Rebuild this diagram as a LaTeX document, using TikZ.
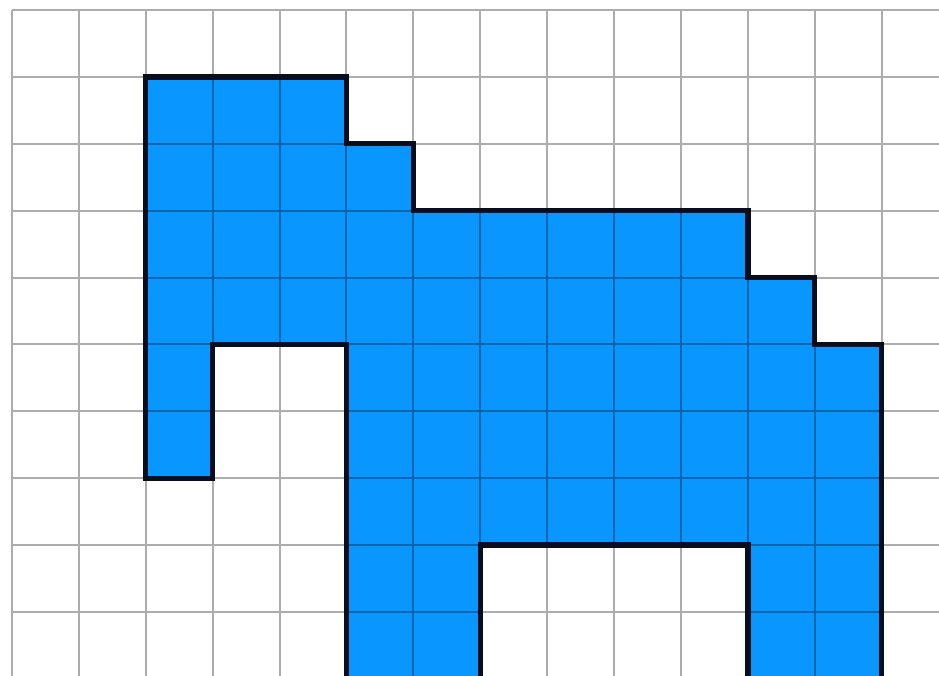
\documentclass[tikz,border=0pt]{standalone}
\usepackage{xcolor}
\definecolor{shapeblue}{RGB}{10,150,255}
\definecolor{edgeblack}{RGB}{8,14,30}
\tikzset{
  gridline/.style={black, opacity=0.32, line width=0.85pt},
  outline/.style={edgeblack, line width=2.3pt, line join=miter}
}

\begin{document}
\begin{tikzpicture}
  \useasboundingbox (-0.179,0.149) rectangle (13.857,-9.955);
  \clip (-0.179,0.149) rectangle (13.857,-9.955);
  \fill[shapeblue] (2,-1) -- (5,-1) -- (5,-2) -- (6,-2) -- (6,-3) -- (11,-3) -- (11,-4)
    -- (12,-4) -- (12,-5) -- (13,-5) -- (13,-10.3) -- (11,-10.3) -- (11,-8) -- (7,-8)
    -- (7,-10.3) -- (5,-10.3) -- (5,-5) -- (3,-5) -- (3,-7) -- (2,-7) -- cycle;
  \draw[gridline] (0,0) grid (14,-10.3);
  \draw[outline] (5,-10.3) -- (5,-5) -- (3,-5) -- (3,-7) -- (2,-7) -- (2,-1) -- (5,-1)
    -- (5,-2) -- (6,-2) -- (6,-3) -- (11,-3) -- (11,-4) -- (12,-4) -- (12,-5) -- (13,-5)
    -- (13,-10.3);
  \draw[outline] (7,-10.3) -- (7,-8) -- (11,-8) -- (11,-10.3);
\end{tikzpicture}
\end{document}
